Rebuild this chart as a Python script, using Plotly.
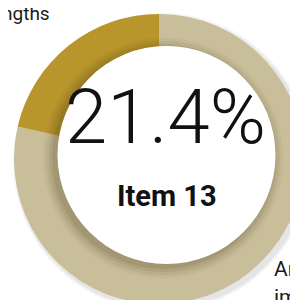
import plotly.graph_objects as go

labels = ["Item 13", "Rest"]
values = [21.4, 78.6]
colors = ["#B8962C", "#C9BE9A"]
center_value = "21.4%"
center_label = "Item 13"
side_texts = ["ngths", "Ar", "im"]

W, H = 298, 300

def px(x):
    return x / W

def py(y):
    return 1 - y / H

# highlighted slice sits just left of 12 o'clock: draw the rest first, clockwise
fig = go.Figure()
fig.add_trace(go.Pie(
    labels=labels[::-1], values=values[::-1], sort=False, direction="clockwise",
    rotation=0, hole=0.55, textinfo="none", hoverinfo="skip",
    marker=dict(colors=colors[::-1], line=dict(width=0)),
    domain=dict(x=[px(6), px(296)], y=[py(296), py(6)]),
    showlegend=False,
))

shapes = []
# soft outer drop shadow (below pie)
for r, op in [(149, 0.06), (147, 0.08)]:
    cx, cy = 154, 154
    shapes.append(dict(type="circle", xref="paper", yref="paper", layer="below",
                       x0=px(cx - r), x1=px(cx + r), y0=py(cy + r), y1=py(cy - r),
                       fillcolor=f"rgba(60,60,60,{op})", line=dict(width=0)))
# inner shadow on ring from white disc
for r, op in [(120, 0.05), (117, 0.07), (114, 0.09), (111, 0.11)]:
    cx, cy = 155, 150
    shapes.append(dict(type="circle", xref="paper", yref="paper", layer="above",
                       x0=px(cx - r), x1=px(cx + r), y0=py(cy + r), y1=py(cy - r),
                       fillcolor=f"rgba(70,55,20,{op})", line=dict(width=0)))
# white disc
cx, cy, r = 158.5, 147, 109
shapes.append(dict(type="circle", xref="paper", yref="paper", layer="above",
                   x0=px(cx - r), x1=px(cx + r), y0=py(cy + r), y1=py(cy - r),
                   fillcolor="white", line=dict(width=0)))

font_main = "Roboto, Liberation Sans, sans-serif"

annotations = [
    dict(text=center_value, x=px(157), y=py(109), xref="paper", yref="paper",
         showarrow=False, font=dict(family=font_main, size=76, color="#111111", weight=300),
         xanchor="center", yanchor="middle"),
    dict(text=f"<b>{center_label}</b>", x=px(159), y=py(188), xref="paper", yref="paper",
         showarrow=False, font=dict(family=font_main, size=29, color="#111111"),
         xanchor="center", yanchor="middle"),
    dict(text=side_texts[0], x=px(-8), y=py(5), xref="paper", yref="paper",
         showarrow=False, font=dict(family=font_main, size=19, color="#1a1a1a"),
         xanchor="left", yanchor="middle"),
    dict(text=side_texts[1], x=px(264), y=py(261), xref="paper", yref="paper",
         showarrow=False, font=dict(family=font_main, size=21, color="#1a1a1a"),
         xanchor="left", yanchor="middle"),
    dict(text=side_texts[2], x=px(264), y=py(289), xref="paper", yref="paper",
         showarrow=False, font=dict(family=font_main, size=21, color="#1a1a1a"),
         xanchor="left", yanchor="middle"),
]

fig.update_layout(
    width=W, height=H, margin=dict(l=0, r=0, t=0, b=0),
    paper_bgcolor="white", plot_bgcolor="white",
    shapes=shapes, annotations=annotations, showlegend=False,
)

fig.write_html("out.html", config={"displayModeBar": False})
